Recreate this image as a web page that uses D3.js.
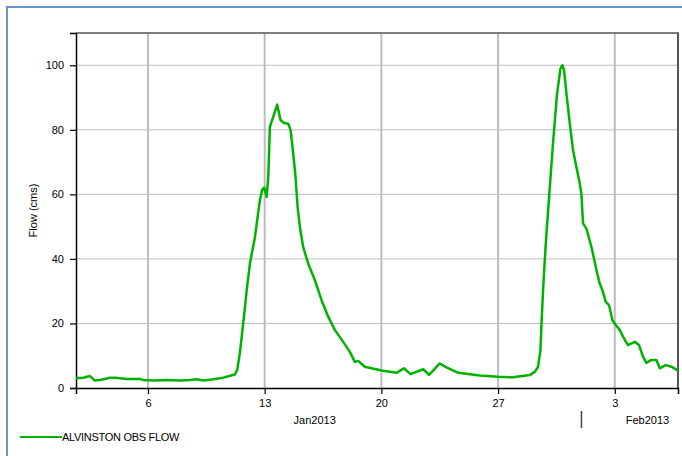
<!DOCTYPE html>
<html><head><meta charset="utf-8">
<script src="https://cdn.jsdelivr.net/npm/d3@7"></script>
<style>
html,body{margin:0;padding:0;background:#fff;}
svg text{font-family:"Liberation Sans",Arial,sans-serif;font-size:11px;fill:#000;}
</style></head>
<body>
<svg id="chart" width="682" height="456"></svg>
<script>
// ---- data ----
const seriesName = "ALVINSTON OBS FLOW";
const times = [
 "2013-01-01T16:24","2013-01-02T03:00","2013-01-02T12:30","2013-01-02T19:40","2013-01-03T03:00",
 "2013-01-03T17:20","2013-01-04T00:30","2013-01-04T17:24","2013-01-05T12:30","2013-01-05T17:12",
 "2013-01-06T07:36","2013-01-07T02:54","2013-01-07T22:00","2013-01-08T12:24","2013-01-08T22:06",
 "2013-01-09T07:36","2013-01-09T22:00","2013-01-10T12:18","2013-01-10T22:00","2013-01-11T05:12",
 "2013-01-11T08:30","2013-01-11T12:24","2013-01-11T17:06","2013-01-11T22:00","2013-01-12T02:48",
 "2013-01-12T10:00","2013-01-12T17:06","2013-01-12T20:30","2013-01-12T23:18","2013-01-13T02:48",
 "2013-01-13T05:06","2013-01-13T07:30","2013-01-13T12:18","2013-01-13T18:00","2013-01-13T22:54",
 "2013-01-14T03:42","2013-01-14T09:54","2013-01-14T13:18","2013-01-14T17:06","2013-01-14T20:12",
 "2013-01-14T23:24","2013-01-15T02:42","2013-01-15T07:24","2013-01-15T14:36","2013-01-16T00:18",
 "2013-01-16T09:54","2013-01-16T19:24","2013-01-17T05:00","2013-01-17T17:00","2013-01-18T02:36",
 "2013-01-18T09:48","2013-01-18T14:36","2013-01-19T00:12","2013-01-20T00:12","2013-01-20T21:48",
 "2013-01-21T08:18","2013-01-21T18:00","2013-01-22T12:06","2013-01-22T20:42","2013-01-23T12:06",
 "2013-01-23T21:48","2013-01-24T14:30","2013-01-25T21:42","2013-01-27T00:00","2013-01-27T21:36",
 "2013-01-28T21:36","2013-01-29T04:48","2013-01-29T09:36","2013-01-29T13:00","2013-01-29T14:30",
 "2013-01-29T16:48","2013-01-29T19:12","2013-01-29T21:36","2013-01-30T01:24","2013-01-30T07:06",
 "2013-01-30T12:54","2013-01-30T17:48","2013-01-30T20:42","2013-01-30T23:00","2013-01-31T02:24",
 "2013-01-31T07:12","2013-01-31T11:54","2013-01-31T17:42","2013-01-31T21:36","2013-02-01T00:00",
 "2013-02-01T02:18","2013-02-01T07:12","2013-02-01T14:24","2013-02-01T18:06","2013-02-01T21:36",
 "2013-02-02T02:18","2013-02-02T06:12","2013-02-02T11:00","2013-02-02T15:42","2013-02-02T20:36",
 "2013-02-03T01:24","2013-02-03T07:06","2013-02-03T11:54","2013-02-03T19:00","2013-02-04T04:42",
 "2013-02-04T10:54","2013-02-04T16:36","2013-02-04T21:30","2013-02-05T04:42","2013-02-05T11:54",
 "2013-02-05T16:42","2013-02-06T01:18","2013-02-06T09:30","2013-02-06T19:00"
];
const flows = [
 3.0,3.2,3.7,2.3,2.5,
 3.2,3.2,2.8,2.8,2.5,
 2.3,2.5,2.3,2.5,2.7,
 2.3,2.7,3.2,3.8,4.2,
 5.6,11,20,30,38.6,
 46.8,58.2,61.5,62.1,59.2,
 65,80.9,84,87.8,83,
 82.1,81.9,79.9,72.6,66,
 56.1,49.9,43.7,38.6,33.4,
 27.2,22.1,18,14.3,11.2,
 8.1,8.4,6.6,5.4,4.7,
 6.1,4.3,5.8,4.1,7.6,
 6.4,4.7,3.9,3.5,3.3,
 4.0,5.0,6.6,11.8,20,
 30.3,39.6,47.9,59,76,
 91.2,99,100,98.5,91.2,
 82,73.7,67.5,63.4,60,
 51,49.4,43.7,40.1,36.5,
 32.4,30.3,26.7,25.7,21,
 19.5,18,15.9,13.3,14.3,
 13.3,9.7,7.8,8.7,8.7,
 6.1,7.1,6.6,5.4
];
const yTicks = [0,20,40,60,80,100];
const xDomain = ["2013-01-01T16:24","2013-02-06T19:00"];
const monthLabels = [
  {label:"Jan2013", at:"2013-01-16T00:00"},
  {label:"Feb2013", at:"2013-02-04T23:00"}
];
const monthBoundary = "2013-02-01T00:00";
const yLabel = "Flow (cms)";

// ---- chart ----
const parse = d3.timeParse("%Y-%m-%dT%H:%M");
const data = times.map((t,i)=>({t:parse(t), v:flows[i]}));
const L=76, R=678, T=33, B=388;
const x = d3.scaleTime().domain(xDomain.map(parse)).range([L,R]);
const y = d3.scaleLinear().domain([0,110]).range([B,T]);
const svg = d3.select("#chart");

// outer frame
svg.append("rect").attr("x",7).attr("y",7).attr("width",720).attr("height",520)
  .attr("fill","none").attr("stroke","#6a92cc").attr("stroke-width",2);

const xTicks = x.ticks(d3.timeWeek.every(1));

// gridlines
svg.append("g").selectAll("line").data(yTicks.filter(d=>d>0)).join("line")
  .attr("x1",L).attr("x2",R).attr("y1",d=>y(d)).attr("y2",d=>y(d))
  .attr("stroke","#bdbdbd").attr("stroke-width",1);
svg.append("g").selectAll("line").data(xTicks).join("line")
  .attr("x1",d=>x(d)).attr("x2",d=>x(d)).attr("y1",T).attr("y2",B)
  .attr("stroke","#bdbdbd").attr("stroke-width",2);

// plot border top/right
svg.append("line").attr("x1",L).attr("x2",R+1).attr("y1",T).attr("y2",T).attr("stroke","#555").attr("stroke-width",1.5);
svg.append("line").attr("x1",R).attr("x2",R).attr("y1",T).attr("y2",B).attr("stroke","#555").attr("stroke-width",2);

// axes
const yAxis = d3.axisLeft(y).tickValues(yTicks).tickSize(6).tickPadding(6);
const gy = svg.append("g").attr("transform",`translate(${L},0)`).call(yAxis);
const xAxis = d3.axisBottom(x).tickValues(xTicks).tickFormat(d3.timeFormat("%-d")).tickSize(6).tickPadding(5);
const gx = svg.append("g").attr("transform",`translate(0,${B})`).call(xAxis);
[gx,gy].forEach(g=>{
  g.select(".domain").attr("stroke","#000").attr("stroke-width",1.5);
  g.selectAll(".tick line").attr("stroke","#000").attr("stroke-width",1.2);
  g.selectAll("text").attr("font-family","Liberation Sans, Arial, sans-serif").attr("font-size",11).attr("fill","#000");
});

// month labels
svg.append("g").selectAll("text").data(monthLabels).join("text")
  .attr("x",d=>x(parse(d.at))).attr("y",424).attr("text-anchor","middle").text(d=>d.label);
svg.append("line").attr("x1",x(parse(monthBoundary))).attr("x2",x(parse(monthBoundary)))
  .attr("y1",411).attr("y2",428).attr("stroke","#444").attr("stroke-width",1.5);

// y label
svg.append("text").attr("transform",`translate(37,${(T+B)/2}) rotate(-90)`)
  .attr("text-anchor","middle").text(yLabel);

// line
const line = d3.line().x(d=>x(d.t)).y(d=>y(d.v));
svg.append("path").datum(data).attr("d",line).attr("fill","none")
  .attr("stroke","#00b300").attr("stroke-width",2.5).attr("stroke-linejoin","round");

// legend
svg.append("line").attr("x1",20).attr("x2",62).attr("y1",437).attr("y2",437)
  .attr("stroke","#00b300").attr("stroke-width",2);
svg.append("text").attr("x",62).attr("y",441).attr("letter-spacing","-0.3").text(seriesName);
</script>
</body></html>
